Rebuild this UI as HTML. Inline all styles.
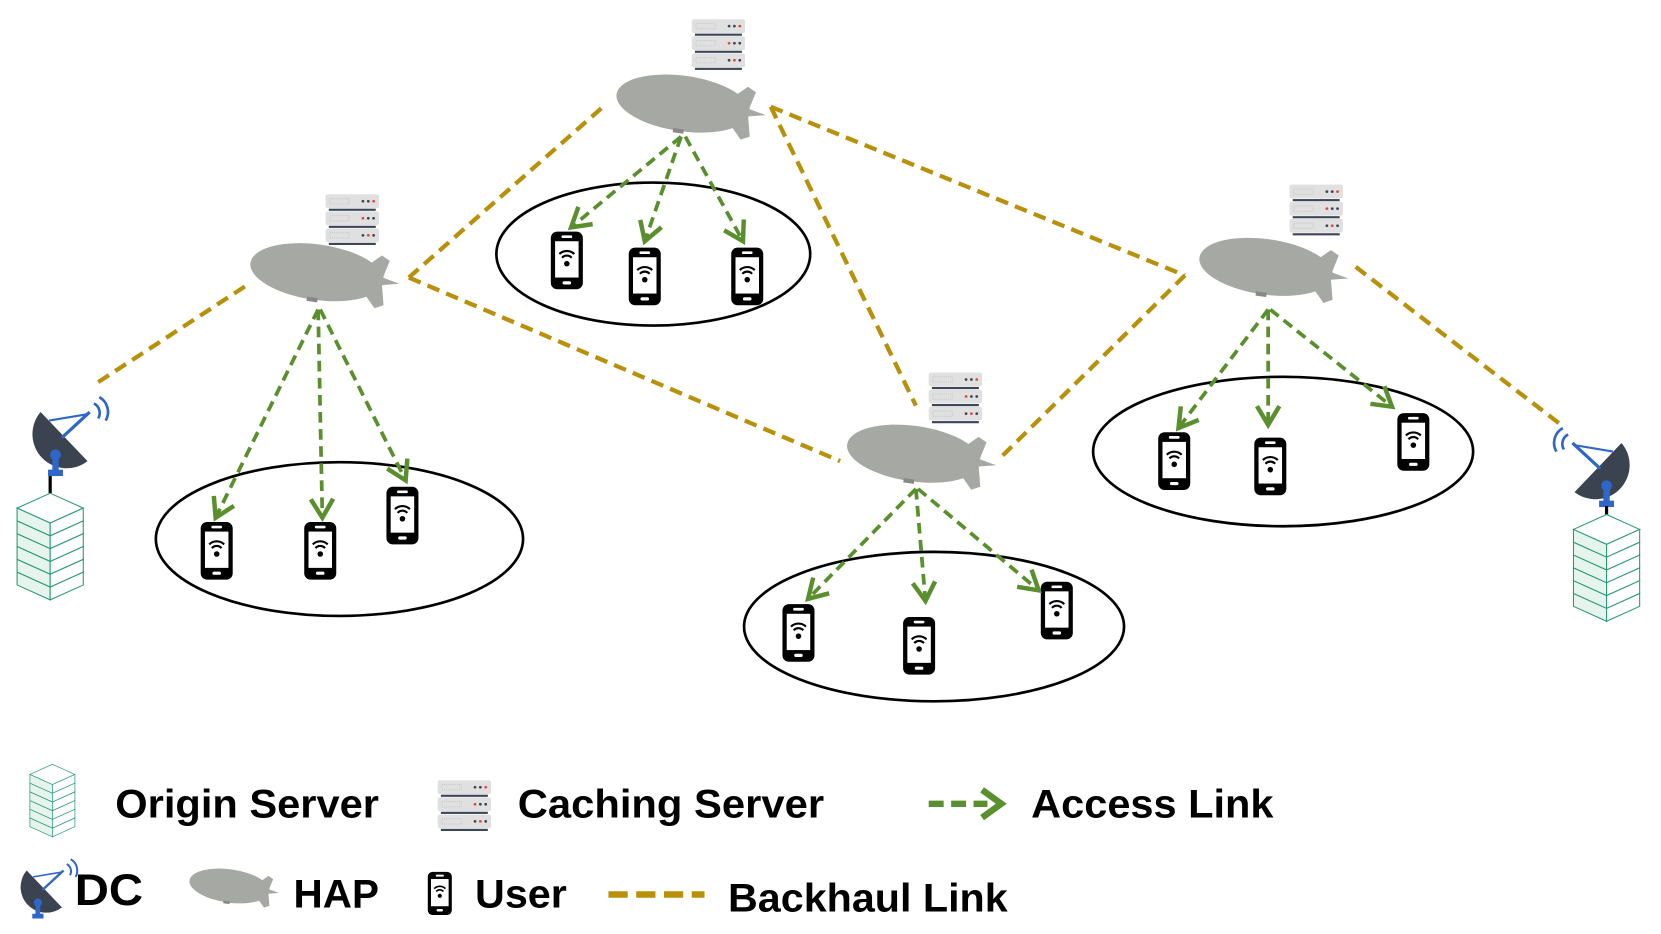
<!DOCTYPE html>
<html><head><meta charset="utf-8"><style>
html,body{margin:0;padding:0;background:#fff;}
svg{display:block;}
text{font-family:"Liberation Sans",sans-serif;font-weight:bold;fill:#000;}
</style></head><body>
<svg width="1661" height="934" viewBox="0 0 1556 875" preserveAspectRatio="none" xmlns="http://www.w3.org/2000/svg">
<defs>
  <marker id="ah" markerWidth="8" markerHeight="8" refX="6" refY="4" orient="auto" markerUnits="strokeWidth">
    <path d="M1,1 L6,4 L1,7" fill="none" stroke="#5a8f2e" stroke-width="1.2"/>
  </marker>
  <g id="blimp">
    <g transform="rotate(8)">
      <ellipse cx="0" cy="0" rx="63" ry="26" fill="#a5a8a3"/>
      <path d="M45,-12 L58,-24 L66,-20 L62,-4 Z" fill="#a5a8a3"/>
      <path d="M45,12 L58,26 L66,22 L62,4 Z" fill="#a5a8a3"/>
      <path d="M50,-6 L78,0 L50,6 Z" fill="#a5a8a3"/>
      <rect x="-6" y="24" width="10" height="4" fill="#888"/>
    </g>
  </g>
  <g id="srv">
    <g>
      <rect x="0" y="0" width="50" height="13" rx="2" fill="#e0e0e0"/>
      <rect x="3" y="13.5" width="44" height="2" fill="#3d4656"/>
      <rect x="0" y="16" width="50" height="13" rx="2" fill="#e0e0e0"/>
      <rect x="3" y="29.5" width="44" height="2" fill="#3d4656"/>
      <rect x="0" y="32" width="50" height="13" rx="2" fill="#e0e0e0"/>
      <rect x="3" y="45.5" width="44" height="2" fill="#3d4656"/>
      <circle cx="35" cy="6.5" r="1.3" fill="#3d4656"/><circle cx="40" cy="6.5" r="1.3" fill="#3d4656"/><circle cx="45" cy="6.5" r="1.3" fill="#e04a3a"/>
      <circle cx="35" cy="22.5" r="1.3" fill="#e04a3a"/><circle cx="40" cy="22.5" r="1.3" fill="#3d4656"/><circle cx="45" cy="22.5" r="1.3" fill="#3d4656"/>
      <circle cx="35" cy="38.5" r="1.3" fill="#3d4656"/><circle cx="40" cy="38.5" r="1.3" fill="#e04a3a"/><circle cx="45" cy="38.5" r="1.3" fill="#3d4656"/>
      <rect x="4" y="4" width="18" height="5" fill="none" stroke="#c8c8c8" stroke-dasharray="1 1"/>
      <rect x="4" y="20" width="18" height="5" fill="none" stroke="#c8c8c8" stroke-dasharray="1 1"/>
      <rect x="4" y="36" width="18" height="5" fill="none" stroke="#c8c8c8" stroke-dasharray="1 1"/>
    </g>
  </g>
  <g id="phone">
    <rect x="-15" y="-27" width="30" height="54" rx="6" fill="#000"/>
    <rect x="-11" y="-18" width="22" height="34" fill="#fff"/>
    <rect x="-5" y="-23.5" width="10" height="2.5" rx="1" fill="#fff"/>
    <rect x="-4" y="19.5" width="8" height="3" rx="1.5" fill="#fff"/>
    <path d="M-7,-6 A10,10 0 0 1 7,-6" fill="none" stroke="#000" stroke-width="2"/>
    <path d="M-4.5,-2.5 A6,6 0 0 1 4.5,-2.5" fill="none" stroke="#000" stroke-width="2"/>
    <circle cx="0" cy="3" r="2.6" fill="#000"/>
  </g>
  <g id="rack">
    <g stroke="#2a9a70" stroke-width="1" fill="#fff">
      <path d="M0,14 L31,0 L62,14 L31,28 Z"/>
      <g id="slab"><path d="M0,14 L31,28 L31,40 L0,26 Z" fill="#e6f4ee"/><path d="M31,28 L62,14 L62,26 L31,40 Z"/></g>
      <use href="#slab" y="12"/><use href="#slab" y="24"/><use href="#slab" y="36"/><use href="#slab" y="48"/><use href="#slab" y="60"/>
    </g>
  </g>
  <g id="dish">
    <path d="M-24,-22 A32,32 0 0 0 20,24 Z" fill="#3b4350"/>
    <line x1="-4" y1="2" x2="22" y2="-22" stroke="#2f67c9" stroke-width="3"/>
    <line x1="-16" y1="-14" x2="20" y2="-20" stroke="#2f67c9" stroke-width="2"/>
    <path d="M26,-30 A10,10 0 0 1 30,-16 M31,-36 A16,16 0 0 1 37,-14" fill="none" stroke="#2f67c9" stroke-width="2.5"/>
    <circle cx="-10" cy="18" r="5" fill="#2f67c9"/>
    <rect x="-13" y="20" width="6" height="14" fill="#2f67c9"/>
    <rect x="-17" y="32" width="14" height="6" fill="#2f67c9"/>
  </g>
</defs>

<g stroke="#b8900a" stroke-width="4" stroke-dasharray="12 7" fill="none">
  <line x1="92" y1="358" x2="230" y2="268"/>
  <line x1="383" y1="260" x2="565" y2="100"/>
  <line x1="383" y1="260" x2="787" y2="432"/>
  <line x1="722" y1="100" x2="858" y2="380"/>
  <line x1="722" y1="100" x2="1110" y2="258"/>
  <line x1="1110" y1="258" x2="938" y2="428"/>
  <line x1="1270" y1="250" x2="1465" y2="400"/>
</g>

<g fill="none" stroke="#000" stroke-width="2.5">
  <ellipse cx="612" cy="238" rx="147" ry="67"/>
  <ellipse cx="318" cy="505" rx="172" ry="72"/>
  <ellipse cx="1202" cy="423" rx="178" ry="70"/>
  <ellipse cx="875" cy="587" rx="178" ry="70"/>
</g>

<use href="#blimp" x="640" y="97"/><use href="#srv" x="648" y="18"/>
<use href="#blimp" x="297" y="255"/><use href="#srv" x="305" y="182"/>
<use href="#blimp" x="1186" y="250"/><use href="#srv" x="1208" y="173"/>
<use href="#blimp" x="856" y="425"/><use href="#srv" x="870" y="349"/>

<use href="#phone" x="531" y="244"/><use href="#phone" x="604" y="259"/><use href="#phone" x="700" y="259"/>
<use href="#phone" x="203" y="516"/><use href="#phone" x="300" y="516"/><use href="#phone" x="377" y="483"/>
<use href="#phone" x="1100" y="432"/><use href="#phone" x="1190" y="437"/><use href="#phone" x="1324" y="414"/>
<use href="#phone" x="748" y="593"/><use href="#phone" x="861" y="605"/><use href="#phone" x="990" y="572"/>

<g stroke="#5a8f2e" stroke-width="3.5" stroke-dasharray="10 6" fill="none" marker-end="url(#ah)">
  <line x1="638" y1="128" x2="535" y2="213"/>
  <line x1="638" y1="128" x2="604" y2="226"/>
  <line x1="642" y1="128" x2="696" y2="226"/>
  <line x1="298" y1="290" x2="202" y2="485"/>
  <line x1="298" y1="290" x2="302" y2="485"/>
  <line x1="300" y1="290" x2="380" y2="450"/>
  <line x1="1188" y1="290" x2="1104" y2="401"/>
  <line x1="1188" y1="290" x2="1188" y2="398"/>
  <line x1="1190" y1="290" x2="1304" y2="381"/>
  <line x1="858" y1="458" x2="757" y2="561"/>
  <line x1="858" y1="458" x2="867" y2="563"/>
  <line x1="860" y1="458" x2="973" y2="553"/>
</g>

<use href="#dish" x="62" y="408"/>
<line x1="47" y1="446" x2="47" y2="462" stroke="#000" stroke-width="3"/>
<use href="#rack" x="16" y="462"/>
<g transform="translate(1495,437) scale(-1,1)"><use href="#dish"/></g>
<line x1="1505" y1="474" x2="1505" y2="486" stroke="#000" stroke-width="3"/>
<use href="#rack" x="1474" y="482"/>

<g transform="translate(28,716) scale(0.68)"><use href="#rack"/></g>
<text x="108" y="766" font-size="37" textLength="247" lengthAdjust="spacingAndGlyphs">Origin Server</text>
<use href="#srv" x="410" y="731"/>
<text x="485" y="766" font-size="37" textLength="287" lengthAdjust="spacingAndGlyphs">Caching Server</text>
<line x1="870" y1="753" x2="925" y2="753" stroke="#5a8f2e" stroke-width="6" stroke-dasharray="14 7"/>
<path d="M920,740 L938,753 L920,766" fill="none" stroke="#5a8f2e" stroke-width="6"/>
<text x="966" y="766" font-size="37" textLength="227" lengthAdjust="spacingAndGlyphs">Access Link</text>

<g transform="translate(43,832) scale(0.75)"><use href="#dish"/></g>
<text x="70" y="848" font-size="42" textLength="64" lengthAdjust="spacingAndGlyphs">DC</text>
<g transform="translate(215,830) scale(0.6)"><use href="#blimp"/></g>
<text x="275" y="850" font-size="37" textLength="80" lengthAdjust="spacingAndGlyphs">HAP</text>
<g transform="translate(412,837) scale(0.75)"><use href="#phone"/></g>
<text x="445" y="850" font-size="37" textLength="86" lengthAdjust="spacingAndGlyphs">User</text>
<line x1="570" y1="838" x2="660" y2="838" stroke="#b8900a" stroke-width="6" stroke-dasharray="18 8"/>
<text x="682" y="854" font-size="37" textLength="262" lengthAdjust="spacingAndGlyphs">Backhaul Link</text>
</svg>
</body></html>
